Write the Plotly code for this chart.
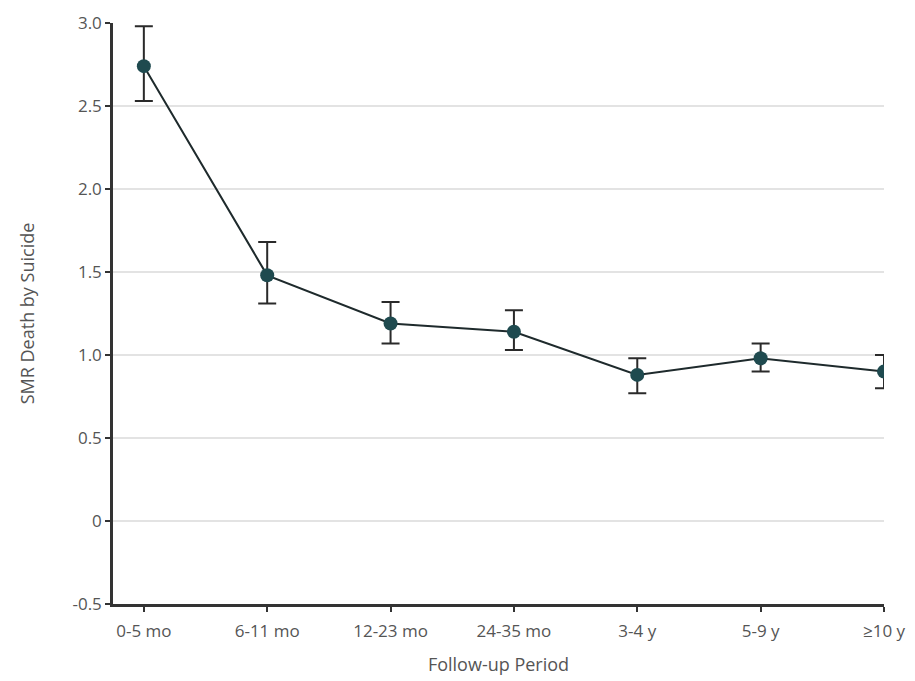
import plotly.graph_objects as go

# Follow-up periods and standardized mortality ratios with 95% CIs
periods = ["0-5 mo", "6-11 mo", "12-23 mo", "24-35 mo", "3-4 y", "5-9 y", "≥10 y"]
smr = [2.74, 1.48, 1.19, 1.14, 0.88, 0.98, 0.90]
ci_low = [2.53, 1.31, 1.07, 1.03, 0.77, 0.90, 0.80]
ci_high = [2.98, 1.68, 1.32, 1.27, 0.98, 1.07, 1.00]

y_ticks = [-0.5, 0, 0.5, 1.0, 1.5, 2.0, 2.5, 3.0]
y_tick_text = ["-0.5", "0", "0.5", "1.0", "1.5", "2.0", "2.5", "3.0"]

err_plus = [h - v for h, v in zip(ci_high, smr)]
err_minus = [v - l for v, l in zip(smr, ci_low)]
xs = list(range(len(periods)))

font_family = "Open Sans, sans-serif"

fig = go.Figure()
fig.add_trace(go.Scatter(
    x=xs, y=smr,
    mode="lines+markers",
    line=dict(color="#1e2a2c", width=2),
    marker=dict(color="#1f4a4f", size=14),
    error_y=dict(type="data", symmetric=False, array=err_plus, arrayminus=err_minus,
                 color="#2a2a2a", thickness=2, width=9),
    showlegend=False,
))

fig.update_layout(
    width=915, height=681,
    margin=dict(l=113, r=31, t=23, b=77),
    paper_bgcolor="white", plot_bgcolor="white",
    font=dict(family=font_family, size=17, color="#555555"),
    xaxis=dict(
        range=[-0.25, 6.0],
        tickmode="array", tickvals=xs, ticktext=periods,
        showgrid=False, zeroline=False,
        showline=True, linecolor="#333333", linewidth=2.5,
        ticks="outside", ticklen=5, tickwidth=1.5, tickcolor="#333333",
        ticklabelstandoff=5,
        tickfont=dict(size=17),
        automargin=False,
        title=dict(text="Follow-up Period", standoff=18, font=dict(size=18)),
    ),
    yaxis=dict(
        range=[-0.5, 3.0],
        tickmode="array", tickvals=y_ticks, ticktext=y_tick_text,
        showgrid=True, gridcolor="#e3e3e3", gridwidth=1.5,
        zeroline=False,
        showline=True, linecolor="#333333", linewidth=2.5,
        ticks="outside", ticklen=5, tickwidth=1.5, tickcolor="#333333",
        tickfont=dict(size=17),
        automargin=False,
        title=dict(text="SMR Death by Suicide", standoff=34, font=dict(size=18)),
    ),
)

fig.write_html("out.html")
